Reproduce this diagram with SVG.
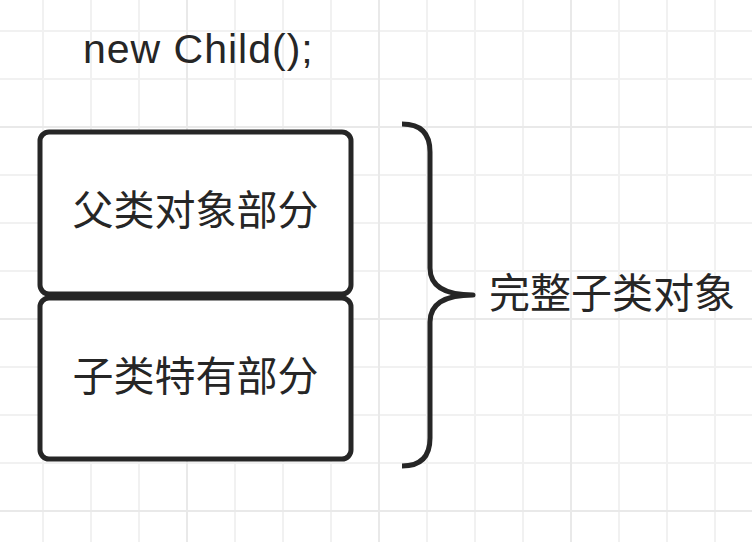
<svg xmlns="http://www.w3.org/2000/svg" width="752" height="542" viewBox="0 0 752 542">
  <style>
    .grid { stroke: #f1f1f1; stroke-width: 2; }
    .major { stroke: #e9e9e9; stroke-width: 2; }
    .box { fill: #ffffff; stroke: #262626; stroke-width: 5; }
    .brace { fill: none; stroke: #262626; stroke-width: 5; stroke-linejoin: round; }
    .label { font-family: "Liberation Sans", "Noto Sans CJK SC", sans-serif; font-size: 41px; fill: #262626; }
  </style>
  <rect x="0" y="0" width="752" height="542" fill="#ffffff"/>
  <g id="grid">
    <g class="grid">
      <line x1="43" y1="0" x2="43" y2="542"/>
      <line x1="91" y1="0" x2="91" y2="542"/>
      <line x1="139" y1="0" x2="139" y2="542"/>
      <line x1="235" y1="0" x2="235" y2="542"/>
      <line x1="283" y1="0" x2="283" y2="542"/>
      <line x1="331" y1="0" x2="331" y2="542"/>
      <line x1="427" y1="0" x2="427" y2="542"/>
      <line x1="475" y1="0" x2="475" y2="542"/>
      <line x1="523" y1="0" x2="523" y2="542"/>
      <line x1="619" y1="0" x2="619" y2="542"/>
      <line x1="667" y1="0" x2="667" y2="542"/>
      <line x1="715" y1="0" x2="715" y2="542"/>
      <line x1="0" y1="31" x2="752" y2="31"/>
      <line x1="0" y1="79" x2="752" y2="79"/>
      <line x1="0" y1="175" x2="752" y2="175"/>
      <line x1="0" y1="223" x2="752" y2="223"/>
      <line x1="0" y1="271" x2="752" y2="271"/>
      <line x1="0" y1="367" x2="752" y2="367"/>
      <line x1="0" y1="415" x2="752" y2="415"/>
      <line x1="0" y1="463" x2="752" y2="463"/>
    </g>
    <g class="major">
      <line x1="187" y1="0" x2="187" y2="542"/>
      <line x1="379" y1="0" x2="379" y2="542"/>
      <line x1="571" y1="0" x2="571" y2="542"/>
      <line x1="0" y1="127" x2="752" y2="127"/>
      <line x1="0" y1="319" x2="752" y2="319"/>
      <line x1="0" y1="511" x2="752" y2="511"/>
    </g>
  </g>
  <g id="title">
    <text class="label" x="83" y="63" letter-spacing="1">new Child();</text>
  </g>
  <g id="parent-part">
    <rect class="box" x="40" y="132" width="311" height="162" rx="9"/>
    <text class="label" x="195.5" y="225" text-anchor="middle">父类对象部分</text>
  </g>
  <g id="child-part">
    <rect class="box" x="40" y="298" width="311" height="161" rx="9"/>
    <text class="label" x="195.5" y="391" text-anchor="middle">子类特有部分</text>
  </g>
  <g id="connectors">
    <path class="brace" d="M402,124 Q430,124 430,152 L430,268 Q430,295 473,295 Q430,295 430,322 L430,438 Q430,466 402,466"/>
  </g>
  <g id="whole-child">
    <text class="label" x="489" y="308">完整子类对象</text>
  </g>
</svg>
